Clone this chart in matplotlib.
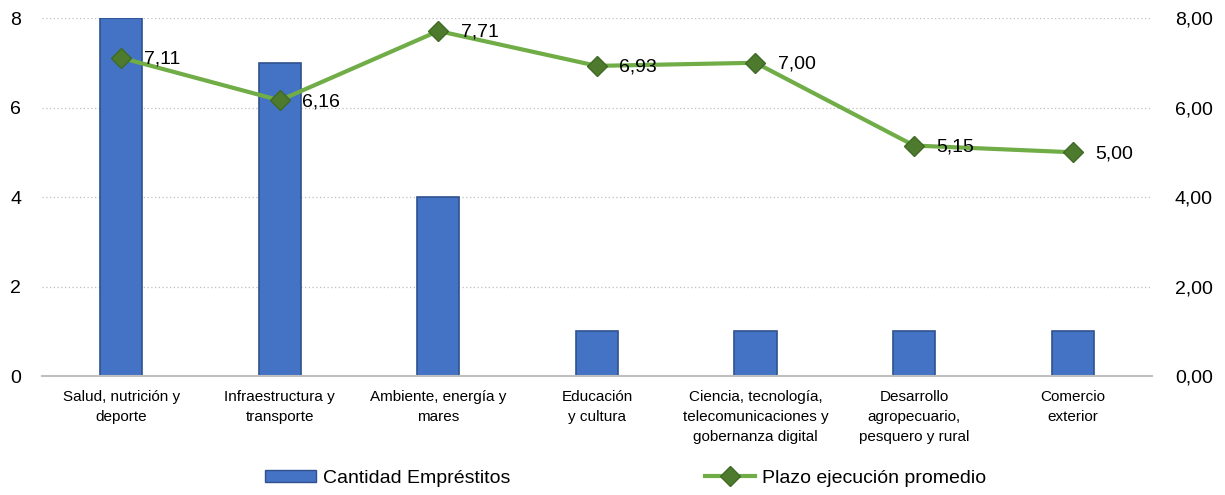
import matplotlib
matplotlib.use("Agg")
import matplotlib.pyplot as plt
from matplotlib.lines import Line2D
from matplotlib.patches import Patch
import numpy as np

categories = ["Salud, nutrición y\ndeporte", "Infraestructura y\ntransporte",
              "Ambiente, energía y\nmares", "Educación\ny cultura",
              "Ciencia, tecnología,\ntelecomunicaciones y\ngobernanza digital",
              "Desarrollo\nagropecuario,\npesquero y rural", "Comercio\nexterior"]
cantidad = [8, 7, 4, 1, 1, 1, 1]
plazo = [7.11, 6.16, 7.71, 6.93, 7.00, 5.15, 5.00]
left_ticks = [0, 2, 4, 6, 8]
right_ticks = [0, 2, 4, 6, 8]

plt.rcParams['font.family'] = ['Liberation Sans', 'DejaVu Sans']

fig = plt.figure(figsize=(12.25, 4.95), dpi=100)
ax = fig.add_axes([0.0343, 0.2404, 0.906, 0.7232])
x = np.arange(len(categories))

ax.bar(x, cantidad, width=0.265, color='#4472C4', edgecolor='#2F528F', linewidth=1.2, zorder=2)
ax.set_ylim(0, 8)
ax.set_xlim(-0.5, len(categories) - 0.5)
ax.set_yticks(left_ticks)
ax.set_yticklabels([str(t) for t in left_ticks], fontsize=14)
ax.set_xticks(x)
ax.set_xticklabels(categories, fontsize=11, linespacing=1.55)
ax.tick_params(axis='both', length=0)
ax.tick_params(axis='y', pad=15)
ax.tick_params(axis='x', pad=10)
for s in ['top', 'right', 'left']:
    ax.spines[s].set_visible(False)
ax.spines['bottom'].set_color('#BFBFBF')
ax.spines['bottom'].set_linewidth(1.5)
for t in left_ticks[1:]:
    ax.axhline(t, color='#BFBFBF', linestyle=(0, (1, 2)), linewidth=0.9, zorder=1)

ax2 = ax.twinx()
ax2.set_ylim(0, 8)
ax2.plot(x, plazo, color='#70AD47', linewidth=3, marker='D', markersize=10,
         markerfacecolor='#4E7A2E', markeredgecolor='#3F6A25', zorder=3)
ax2.set_yticks(right_ticks)
ax2.set_yticklabels([f"{t:.2f}".replace('.', ',') for t in right_ticks], fontsize=14)
ax2.tick_params(axis='y', length=0, pad=16.5)
for s in ['top', 'right', 'left', 'bottom']:
    ax2.spines[s].set_visible(False)
for xi, v in zip(x, plazo):
    ax2.annotate(f"{v:.2f}".replace('.', ','), (xi, v), xytext=(16, -1),
                 textcoords='offset points', fontsize=14,
                 va='center', ha='left')

handles = [Patch(facecolor='#4472C4', edgecolor='#2F528F'),
           Line2D([0], [0], color='#70AD47', linewidth=3, marker='D', markersize=10,
                  markerfacecolor='#4E7A2E', markeredgecolor='#3F6A25')]
fig.legend(handles, ["Cantidad Empréstitos", "Plazo ejecución promedio"],
           loc='center', bbox_to_anchor=(0.511, 0.034), ncol=2, frameon=False,
           fontsize=14, columnspacing=10, handlelength=2.6, handleheight=0.55,
           handletextpad=0.36)

fig.savefig("out.png", dpi=100)
